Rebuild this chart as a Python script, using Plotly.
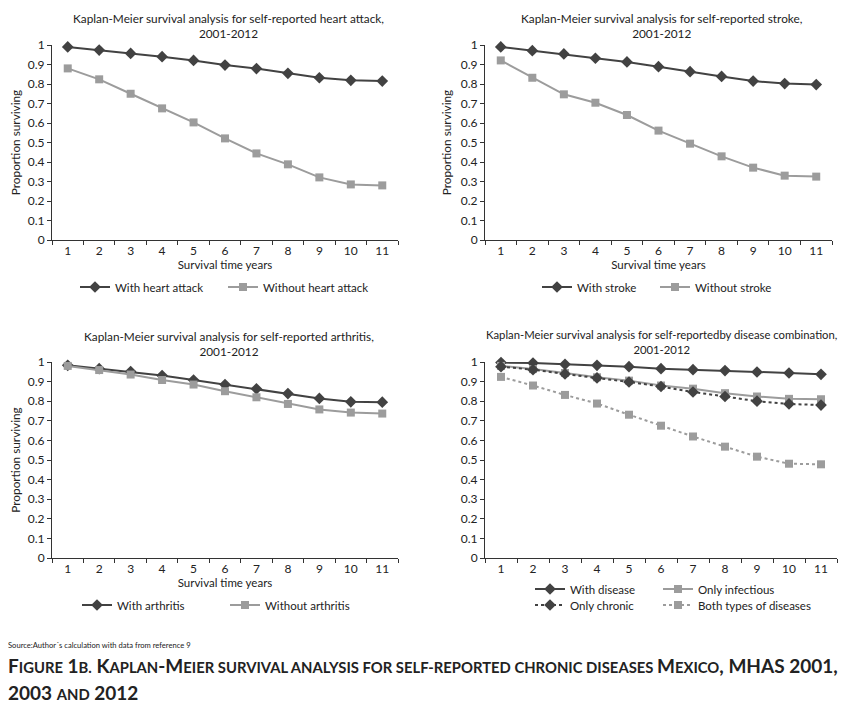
import plotly.graph_objects as go

years = [str(i) for i in range(1, 12)]

heart_with = [0.990, 0.974, 0.957, 0.940, 0.921, 0.897, 0.879, 0.855, 0.832, 0.819, 0.815]
heart_without = [0.880, 0.824, 0.750, 0.675, 0.603, 0.521, 0.444, 0.388, 0.321, 0.285, 0.280]

stroke_with = [0.990, 0.971, 0.954, 0.932, 0.913, 0.889, 0.863, 0.839, 0.815, 0.802, 0.797]
stroke_without = [0.921, 0.832, 0.747, 0.704, 0.641, 0.561, 0.494, 0.429, 0.371, 0.330, 0.325]

arth_with = [0.983, 0.966, 0.951, 0.931, 0.908, 0.885, 0.863, 0.839, 0.814, 0.797, 0.795]
arth_without = [0.980, 0.959, 0.936, 0.908, 0.885, 0.851, 0.820, 0.786, 0.758, 0.742, 0.737]

comb_with_disease = [0.997, 0.995, 0.988, 0.983, 0.976, 0.966, 0.961, 0.956, 0.949, 0.944, 0.937]
comb_only_infectious = [0.980, 0.964, 0.944, 0.922, 0.905, 0.880, 0.864, 0.841, 0.824, 0.812, 0.810]
comb_only_chronic = [0.976, 0.961, 0.939, 0.919, 0.898, 0.875, 0.847, 0.824, 0.800, 0.786, 0.780]
comb_both = [0.924, 0.880, 0.832, 0.788, 0.731, 0.675, 0.620, 0.568, 0.517, 0.481, 0.478]

y_ticks = [0, 0.1, 0.2, 0.3, 0.4, 0.5, 0.6, 0.7, 0.8, 0.9, 1]
y_ticktext = ["0", "0.1", "0.2", "0.3", "0.4", "0.5", "0.6", "0.7", "0.8", "0.9", "1"]

titles = [
    "Kaplan-Meier survival analysis for self-reported heart attack,<br>2001-2012",
    "Kaplan-Meier survival analysis for self-reported stroke,<br>2001-2012",
    "Kaplan-Meier survival analysis for self-reported arthritis,<br>2001-2012",
    "Kaplan-Meier survival analysis for self-reportedby disease combination,<br>2001-2012",
]

W, H = 849, 720
OFF = 8  # the page shows the figure offset by the default body margin
FONT = "Lato, 'Open Sans', sans-serif"
DARK = "#424242"
GRAY = "#9c9c9c"


def px(x):
    return (x - OFF) / W


def py(y):
    return 1 - (y - OFF) / H


fig = go.Figure()

# (name, values, axis suffix, legend id, color, symbol, dash, legend text x, legend y)
series = [
    ("With heart attack", heart_with, "", "legend", DARK, "diamond", "solid", 115, 287),
    ("Without heart attack", heart_without, "", "legend2", GRAY, "square", "solid", 263, 287),
    ("With stroke", stroke_with, "2", "legend3", DARK, "diamond", "solid", 577, 287),
    ("Without stroke", stroke_without, "2", "legend4", GRAY, "square", "solid", 695, 287),
    ("With arthritis", arth_with, "3", "legend5", DARK, "diamond", "solid", 117, 605),
    ("Without arthritis", arth_without, "3", "legend6", GRAY, "square", "solid", 265, 605),
    ("With disease", comb_with_disease, "4", "legend7", DARK, "diamond", "solid", 570, 589),
    ("Only infectious", comb_only_infectious, "4", "legend8", GRAY, "square", "solid", 698, 589),
    ("Only chronic", comb_only_chronic, "4", "legend9", DARK, "diamond", "dot", 570, 605),
    ("Both types of diseases", comb_both, "4", "legend10", GRAY, "square", "dot", 698, 605),
]

layout = dict(width=W, height=H, autosize=False, showlegend=True,
              margin=dict(l=0, r=0, t=0, b=0, autoexpand=False),
              paper_bgcolor="white", plot_bgcolor="white",
              font=dict(family=FONT, size=11, color="#222"))

for name, vals, sx, leg, color, symbol, dash, lx, ly in series:
    fig.add_trace(go.Scatter(
        x=years, y=vals, name=name, mode="lines+markers", showlegend=True,
        xaxis="x" + sx, yaxis="y" + sx, legend=leg, cliponaxis=False,
        line=dict(color=color, width=2, dash=dash),
        marker=dict(color=color, symbol=symbol, size=9 if symbol == "diamond" else 8),
    ))
    layout[leg] = dict(font=dict(family=FONT, size=11.5, color="#222"), bgcolor="rgba(0,0,0,0)",
                       xanchor="left", yanchor="middle", itemclick=False, orientation="v",
                       x=px(lx - 40), y=py(ly), borderwidth=0, visible=True)

# panel geometry in pixels: (x0, x1, ytop, ybottom)
panels = [
    (52, 398, 45, 240),
    (485, 832, 45, 240),
    (52, 398, 362, 558),
    (485, 837, 362, 558),
]

axis_common = dict(showgrid=False, zeroline=False, showline=True, linecolor="#333",
                   linewidth=1, ticks="outside", tickcolor="#333", ticklen=4, automargin=False,
                   tickfont=dict(family=FONT, size=12, color="#222"))

for i, (x0, x1, yt, yb) in enumerate(panels):
    sx = "" if i == 0 else str(i + 1)
    xa = dict(axis_common, domain=[px(x0), px(x1)], anchor="y" + sx, type="category",
              tickson="boundaries", range=[-0.5, 10.5])
    ya = dict(axis_common, domain=[py(yb), py(yt)], anchor="x" + sx, range=[0, 1],
              tickvals=y_ticks, ticktext=y_ticktext)
    if i < 3:
        xa["title"] = dict(text="Survival time years", font=dict(family=FONT, size=11.5), standoff=3)
        ya["title"] = dict(text="Proportion surviving", font=dict(family=FONT, size=11.8), standoff=6)
    layout["xaxis" + sx] = xa
    layout["yaxis" + sx] = ya

annotations = []
title_specs = [(228, 26, 11.8), (662, 26, 11.8), (229, 344, 11.8), (661, 342, 11.3)]
for t, (cx, cy, fs) in zip(titles, title_specs):
    annotations.append(dict(text=t, x=px(cx), y=py(cy), xref="paper", yref="paper",
                            showarrow=False, xanchor="center", yanchor="middle",
                            font=dict(family=FONT, size=fs, color="#222")))

annotations.append(dict(text="Source:Author´s calculation with data from reference 9",
                        x=px(6), y=py(645), xref="paper", yref="paper", showarrow=False,
                        xanchor="left", yanchor="middle",
                        font=dict(family=FONT, size=7.6, color="#222")))

SMALL = "<span style='font-size:14.8px'>"


def sc(word_big, word_small):
    return word_big + SMALL + word_small + "</span>"


line1 = (sc("F", "IGURE") + " 1" + SMALL + "B.</span> " + sc("K", "APLAN") + "-" + sc("M", "EIER")
         + SMALL + " SURVIVAL ANALYSIS FOR SELF-REPORTED CHRONIC DISEASES </span>"
         + sc("M", "EXICO") + ", MHAS 2001,")
line2 = "2003 " + SMALL + "AND</span> 2012"
for txt, yy in [(line1, 665), (line2, 692)]:
    annotations.append(dict(text="<b>" + txt + "</b>", x=px(6), y=py(yy), xref="paper", yref="paper",
                            showarrow=False, xanchor="left", yanchor="middle",
                            font=dict(family=FONT, size=19, color="#222")))

layout["annotations"] = annotations

fig.update_layout(**layout)
fig.write_html("out.html")
